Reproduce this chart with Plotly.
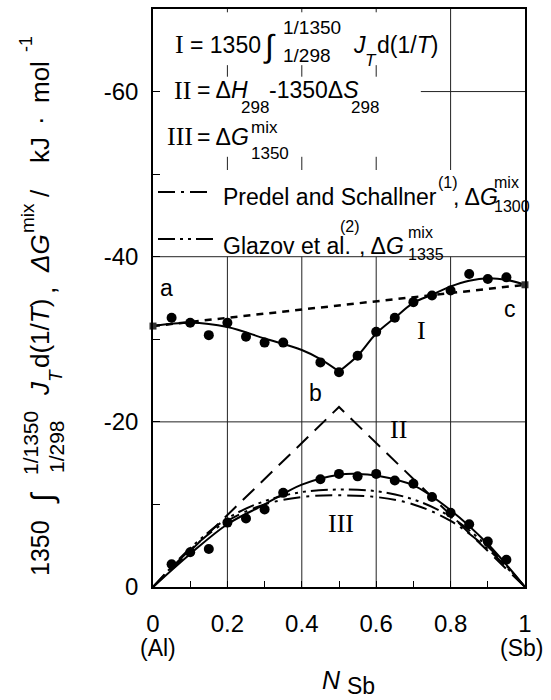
import plotly.graph_objects as go

# ---------------- data ----------------
x_pts = [0.05, 0.10, 0.15, 0.20, 0.25, 0.30, 0.35, 0.45, 0.50,
         0.55, 0.60, 0.65, 0.70, 0.75, 0.80, 0.85, 0.90, 0.95]
I_pts = [-32.6, -32.0, -30.5, -32.0, -30.3, -29.6, -29.6, -27.2, -26.0,
         -28.0, -30.9, -32.6, -34.5, -35.3, -35.9, -37.9, -37.3, -37.5]
III_pts = [-2.75, -4.2, -4.6, -7.8, -8.3, -9.4, -11.4, -13.05, -13.7,
           -13.4, -13.7, -12.9, -12.5, -10.9, -9.0, -7.6, -5.5, -3.3]

end_x = [0.0, 1.0]
end_I = [-31.6, -36.6]

curveI_left_x = [0.0, 0.1, 0.2, 0.3, 0.4, 0.45, 0.5]
curveI_left_y = [-31.6, -32.0, -31.5, -30.1, -28.7, -27.6, -26.1]
curveI_right_x = [0.5, 0.55, 0.6, 0.65, 0.7, 0.75, 0.8, 0.85, 0.9, 0.95, 1.0]
curveI_right_y = [-26.1, -28.0, -30.7, -32.6, -34.4, -35.4, -36.4, -37.1, -37.4, -37.2, -36.6]

curveII_x = [0.0, 0.5, 1.0]
curveII_y = [0.0, -21.8, 0.0]

curveIII_x = [0.0, 0.1, 0.2, 0.3, 0.4, 0.5, 0.55, 0.6, 0.7, 0.8, 0.9, 1.0]
curveIII_y = [0.0, -4.0, -7.6, -10.0, -12.4, -13.6, -13.7, -13.5, -12.3, -9.3, -5.2, 0.0]

lit_x = [0.0, 0.1, 0.2, 0.3, 0.4, 0.5, 0.6, 0.7, 0.8, 0.9, 1.0]
predel_y = [0.0, -4.5, -8.0, -10.0, -10.9, -11.1, -10.9, -10.0, -8.0, -4.6, 0.0]
glazov_y = [0.0, -4.7, -8.3, -10.4, -11.5, -11.8, -11.6, -10.6, -8.5, -4.9, 0.0]

x_ticks = [0, 0.2, 0.4, 0.6, 0.8, 1.0]
x_ticktext = ["0", "0.2", "0.4", "0.6", "0.8", "1"]
y_ticks = [0, -20, -40, -60]
y_ticktext = ["0", "-20", "-40", "-60"]

# ---------------- styling ----------------
SANS = "Liberation Sans, Arial, sans-serif"
SERIF = "Liberation Serif, Times New Roman, serif"
W, H = 551, 700
L, R, T, B = 153, 525, 9, 587
DASHDOT = "17px,6px,3px,6px"
DASHDOTDOT = "17px,5px,3px,5px,3px,5px"

fig = go.Figure()

# dotted ideal line a-c
fig.add_trace(go.Scatter(x=end_x, y=end_I, mode="lines",
                         line=dict(color="black", width=2.5, dash="7px,6px")))
# literature curves
fig.add_trace(go.Scatter(x=lit_x, y=predel_y, mode="lines", line_shape="spline",
                         line=dict(color="black", width=2, dash=DASHDOT)))
fig.add_trace(go.Scatter(x=lit_x, y=glazov_y, mode="lines", line_shape="spline",
                         line=dict(color="black", width=2, dash=DASHDOTDOT)))
# II dashed
fig.add_trace(go.Scatter(x=curveII_x, y=curveII_y, mode="lines",
                         line=dict(color="black", width=2, dash="16px,9px")))
# I solid
fig.add_trace(go.Scatter(x=curveI_left_x, y=curveI_left_y, mode="lines", line_shape="spline",
                         line=dict(color="black", width=2)))
fig.add_trace(go.Scatter(x=curveI_right_x, y=curveI_right_y, mode="lines", line_shape="spline",
                         line=dict(color="black", width=2)))
# III solid
fig.add_trace(go.Scatter(x=curveIII_x, y=curveIII_y, mode="lines", line_shape="spline",
                         line=dict(color="black", width=2)))
# points
fig.add_trace(go.Scatter(x=x_pts, y=I_pts, mode="markers", cliponaxis=False,
                         marker=dict(color="black", size=10, symbol="circle")))
fig.add_trace(go.Scatter(x=x_pts, y=III_pts, mode="markers", cliponaxis=False,
                         marker=dict(color="black", size=10, symbol="circle")))
fig.add_trace(go.Scatter(x=end_x, y=end_I, mode="markers", cliponaxis=False,
                         marker=dict(color="#333", size=7, symbol="square")))

# ---------------- grid lines (with the gaps left by the text) ----------------
grid = dict(color="#222", width=1)
shapes = []
for gx in [0.2, 0.4, 0.6, 0.8]:
    shapes.append(dict(type="line", xref="x", yref="y", x0=gx, x1=gx, y0=0, y1=-40,
                       line=grid, layer="below"))
for gx in [0.2, 0.4, 0.6]:
    for (ya, yb) in [(-50.5, -52.1), (-61.8, -63.2), (-69.6, -70)]:
        shapes.append(dict(type="line", xref="x", yref="y", x0=gx, x1=gx, y0=ya, y1=yb,
                           line=grid, layer="below"))
shapes.append(dict(type="line", xref="x", yref="y", x0=0.8, x1=0.8, y0=-50.5, y1=-70,
                   line=grid, layer="below"))
for gy in [-20, -40]:
    shapes.append(dict(type="line", xref="x", yref="y", x0=0, x1=1, y0=gy, y1=gy,
                       line=grid, layer="below"))
shapes.append(dict(type="line", xref="x", yref="y", x0=0.72, x1=1, y0=-60, y1=-60,
                   line=grid, layer="below"))


def px(x, y):
    return (x - L) / (R - L), (B - y) / (B - T)


# legend line samples
for (yy, dsh) in [(192, DASHDOT), (239, DASHDOTDOT)]:
    x0, y0 = px(158, yy)
    x1, _ = px(213, yy)
    shapes.append(dict(type="line", xref="paper", yref="paper", x0=x0, x1=x1, y0=y0, y1=y0,
                       line=dict(color="black", width=2, dash=dsh)))

annotations = []


def txt(text, x, y, size, family=SANS, xanchor="left", angle=0):
    ax, ay = px(x, y)
    annotations.append(dict(text=text, x=ax, y=ay, xref="paper", yref="paper",
                            xanchor=xanchor, yanchor="middle", showarrow=False,
                            textangle=angle, borderpad=0,
                            font=dict(family=family, size=size, color="black")))


# formula block
txt("I", 174, 45, 26, SERIF)
txt("= 1350", 189, 45, 23)
txt("∫", 262, 46, 32)
txt("1/1350", 282, 28, 19)
txt("1/298", 282, 55, 19)
txt("<i>J</i>", 352, 45, 23)
txt("<i>T</i>", 364, 60, 17)
txt("d(1/<i>T</i>)", 376, 45, 23)

txt("II", 173, 90, 26, SERIF)
txt("= Δ<i>H</i>", 196, 90, 23)
txt("298", 240, 108, 17)
txt("-1350Δ<i>S</i>", 268, 90, 23)
txt("298", 350, 108, 17)

txt("III", 166, 137, 26, SERIF)
txt("= Δ<i>G</i>", 196, 137, 23)
txt("mix", 250, 127, 17)
txt("1350", 250, 154, 17)

txt("Predel and Schallner", 222, 197, 23)
txt("(1)", 437, 182, 16)
txt(", Δ<i>G</i>", 452, 197, 23)
txt("mix", 493, 183, 16)
txt("1300", 493, 206, 16)

txt("Glazov et al.", 222, 246, 23)
txt("(2)", 339, 226, 16)
txt(", Δ<i>G</i>", 358, 246, 23)
txt("mix", 407, 232, 16)
txt("1335", 407, 255, 16)

# in-plot labels
txt("a", 166, 288, 23, xanchor="center")
txt("b", 315, 393, 23, xanchor="center")
txt("c", 510, 309, 23, xanchor="center")
txt("I", 421, 330, 26, SERIF, xanchor="center")
txt("II", 398, 429, 26, SERIF, xanchor="center")
txt("III", 341, 523, 26, SERIF, xanchor="center")

# bottom labels
txt("(Al)", 158, 648, 23, xanchor="center")
txt("(Sb)", 521, 648, 23, xanchor="center")
txt("<i>N</i>", 331, 680, 25, xanchor="center")
txt("Sb", 361, 686, 23, xanchor="center")

# y-axis title pieces (rotated, reading upwards)
txt("1350", 40, 548, 25, xanchor="center", angle=-90)
txt("∫", 42, 498, 31, xanchor="center", angle=-90)
txt("1/1350", 30, 443, 21, xanchor="center", angle=-90)
txt("1/298", 56, 447, 21, xanchor="center", angle=-90)
txt("<i>J</i>", 40, 389, 26, xanchor="center", angle=-90)
txt("<i>T</i>", 55, 376, 19, xanchor="center", angle=-90)
txt("d(1/<i>T</i>)", 40, 334, 26, xanchor="center", angle=-90)
txt(",", 46, 290, 26, xanchor="center", angle=-90)
txt("<i>ΔG</i>", 40, 254, 26, xanchor="center", angle=-90)
txt("mix", 27, 218, 19, xanchor="center", angle=-90)
txt("/", 40, 193, 26, xanchor="center", angle=-90)
txt("kJ", 40, 150, 26, xanchor="center", angle=-90)
txt("·", 40, 121, 26, xanchor="center", angle=-90)
txt("mol", 40, 82, 26, xanchor="center", angle=-90)
txt("-1", 26, 44, 18, xanchor="center", angle=-90)

axis_common = dict(showline=True, mirror=True, linecolor="black", linewidth=1.5,
                   showgrid=False, zeroline=False, ticks="inside",
                   tickcolor="black", tickfont=dict(family=SANS, size=24, color="black"))

fig.update_layout(
    width=W, height=H,
    margin=dict(l=L, r=W - R, t=T, b=H - B, autoexpand=False),
    paper_bgcolor="white", plot_bgcolor="white",
    showlegend=False,
    shapes=shapes, annotations=annotations,
    xaxis=dict(range=[0, 1], tickvals=x_ticks, ticktext=x_ticktext, ticklen=6,
               ticklabelstandoff=14,
               minor=dict(tickvals=[0.1, 0.3, 0.5, 0.7, 0.9], ticks="inside", ticklen=6,
                          tickcolor="black"),
               **axis_common),
    yaxis=dict(range=[0, -70], tickvals=y_ticks, ticktext=y_ticktext, ticklen=7,
               ticklabelstandoff=8,
               minor=dict(tickvals=[-10, -30, -50], ticks="inside", ticklen=7,
                          tickcolor="black"),
               **axis_common),
)

fig.write_html("out.html")
